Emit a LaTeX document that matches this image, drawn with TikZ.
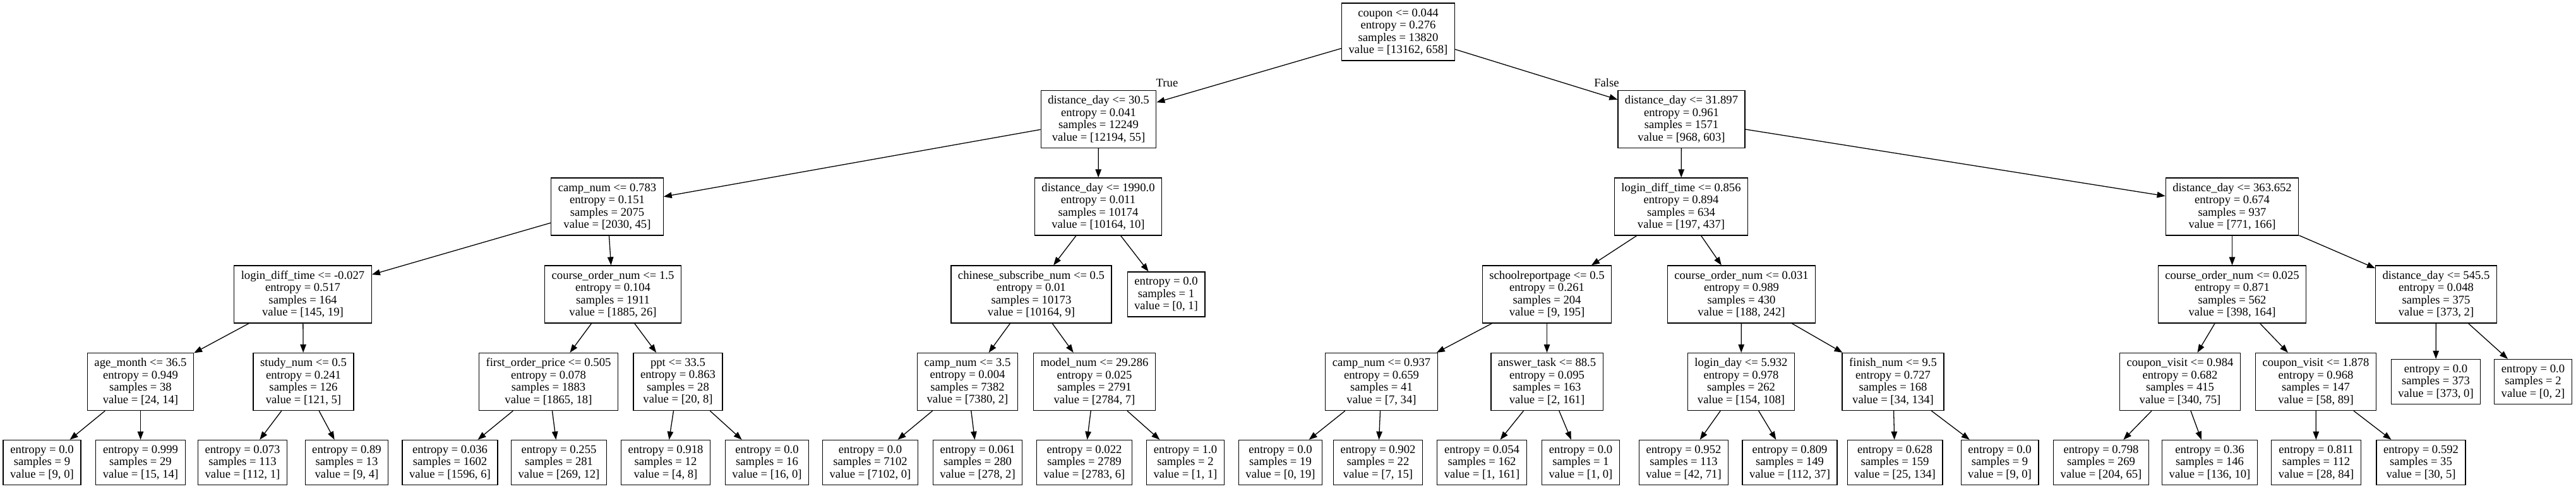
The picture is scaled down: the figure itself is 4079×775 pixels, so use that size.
\documentclass[tikz,border=0pt]{standalone}
\usepackage{fontspec}
\setmainfont{Liberation Serif}
\usetikzlibrary{arrows.meta}
\begin{document}
\begin{tikzpicture}[x=1pt,y=-1pt,
  every node/.style={font=\fontsize{18.67}{19.5}\selectfont},
  dbox/.style={draw=black,line width=1.3pt,rectangle,align=center,inner xsep=11pt,inner ysep=0pt,minimum height=91pt,fill=white},
  dleaf/.style={dbox,minimum height=71pt},
  lab/.style={inner sep=0pt},
  edge/.style={draw=black,line width=1.3pt,-{Triangle[length=13pt,width=9.5pt]}}
]
\fill[white] (0,0) rectangle (4079,775);
\useasboundingbox (0,0) rectangle (4079,775);

% level 0
\node[dbox] (r) at (2214,50.5) {coupon <= 0.044\\entropy = 0.276\\samples = 13820\\value = [13162, 658]};
% level 1
\node[dbox] (n1) at (1739.5,189) {distance\_day <= 30.5\\entropy = 0.041\\samples = 12249\\value = [12194, 55]};
\node[dbox] (n2) at (2662.5,189) {distance\_day <= 31.897\\entropy = 0.961\\samples = 1571\\value = [968, 603]};
% level 2
\node[dbox] (n3) at (961.5,327.5) {camp\_num <= 0.783\\entropy = 0.151\\samples = 2075\\value = [2030, 45]};
\node[dbox] (n4) at (1739,327.5) {distance\_day <= 1990.0\\entropy = 0.011\\samples = 10174\\value = [10164, 10]};
\node[dbox] (n5) at (2662,327.5) {login\_diff\_time <= 0.856\\entropy = 0.894\\samples = 634\\value = [197, 437]};
\node[dbox] (n6) at (3534.5,327.5) {distance\_day <= 363.652\\entropy = 0.674\\samples = 937\\value = [771, 166]};
% level 3
\node[dbox] (n7) at (479.5,466.5) {login\_diff\_time <= -0.027\\entropy = 0.517\\samples = 164\\value = [145, 19]};
\node[dbox] (n8) at (970.5,466.5) {course\_order\_num <= 1.5\\entropy = 0.104\\samples = 1911\\value = [1885, 26]};
\node[dbox] (n9) at (1633,466.5) {chinese\_subscribe\_num <= 0.5\\entropy = 0.01\\samples = 10173\\value = [10164, 9]};
\node[dleaf] (n10) at (1846.5,466.5) {entropy = 0.0\\samples = 1\\value = [0, 1]};
\node[dbox] (n11) at (2449.5,466.5) {schoolreportpage <= 0.5\\entropy = 0.261\\samples = 204\\value = [9, 195]};
\node[dbox] (n12) at (2757.5,466.5) {course\_order\_num <= 0.031\\entropy = 0.989\\samples = 430\\value = [188, 242]};
\node[dbox] (n13) at (3534.5,466.5) {course\_order\_num <= 0.025\\entropy = 0.871\\samples = 562\\value = [398, 164]};
\node[dbox] (n14) at (3857.5,466.5) {distance\_day <= 545.5\\entropy = 0.048\\samples = 375\\value = [373, 2]};
% level 4
\node[dbox] (m1) at (222.5,605) {age\_month <= 36.5\\entropy = 0.949\\samples = 38\\value = [24, 14]};
\node[dbox] (m2) at (480.5,605) {study\_num <= 0.5\\entropy = 0.241\\samples = 126\\value = [121, 5]};
\node[dbox] (m3) at (868.5,605) {first\_order\_price <= 0.505\\entropy = 0.078\\samples = 1883\\value = [1865, 18]};
\node[dbox] (m4) at (1073.5,605) {ppt <= 33.5\\entropy = 0.863\\samples = 28\\value = [20, 8]};
\node[dbox] (m5) at (1532,605) {camp\_num <= 3.5\\entropy = 0.004\\samples = 7382\\value = [7380, 2]};
\node[dbox] (m6) at (1733,605) {model\_num <= 29.286\\entropy = 0.025\\samples = 2791\\value = [2784, 7]};
\node[dbox] (m7) at (2187.5,605) {camp\_num <= 0.937\\entropy = 0.659\\samples = 41\\value = [7, 34]};
\node[dbox] (m8) at (2449.5,605) {answer\_task <= 88.5\\entropy = 0.095\\samples = 163\\value = [2, 161]};
\node[dbox] (m9) at (2757,605) {login\_day <= 5.932\\entropy = 0.978\\samples = 262\\value = [154, 108]};
\node[dbox] (m10) at (2997.5,605) {finish\_num <= 9.5\\entropy = 0.727\\samples = 168\\value = [34, 134]};
\node[dbox] (m11) at (3452,605) {coupon\_visit <= 0.984\\entropy = 0.682\\samples = 415\\value = [340, 75]};
\node[dbox] (m12) at (3667,605) {coupon\_visit <= 1.878\\entropy = 0.968\\samples = 147\\value = [58, 89]};
\node[dleaf] (m13) at (3857,605) {entropy = 0.0\\samples = 373\\value = [373, 0]};
\node[dleaf] (m14) at (4011,605) {entropy = 0.0\\samples = 2\\value = [0, 2]};
% level 5
\node[dleaf] (l1) at (66.5,733) {entropy = 0.0\\samples = 9\\value = [9, 0]};
\node[dleaf] (l2) at (222.5,733) {entropy = 0.999\\samples = 29\\value = [15, 14]};
\node[dleaf] (l3) at (384,733) {entropy = 0.073\\samples = 113\\value = [112, 1]};
\node[dleaf] (l4) at (549,733) {entropy = 0.89\\samples = 13\\value = [9, 4]};
\node[dleaf] (l5) at (712.5,733) {entropy = 0.036\\samples = 1602\\value = [1596, 6]};
\node[dleaf] (l6) at (885,733) {entropy = 0.255\\samples = 281\\value = [269, 12]};
\node[dleaf] (l7) at (1054,733) {entropy = 0.918\\samples = 12\\value = [4, 8]};
\node[dleaf] (l8) at (1214.5,733) {entropy = 0.0\\samples = 16\\value = [16, 0]};
\node[dleaf] (l9) at (1378,733) {entropy = 0.0\\samples = 7102\\value = [7102, 0]};
\node[dleaf] (l10) at (1548,733) {entropy = 0.061\\samples = 280\\value = [278, 2]};
\node[dleaf] (l11) at (1717,733) {entropy = 0.022\\samples = 2789\\value = [2783, 6]};
\node[dleaf] (l12) at (1877,733) {entropy = 1.0\\samples = 2\\value = [1, 1]};
\node[dleaf] (l13) at (2027.5,733) {entropy = 0.0\\samples = 19\\value = [0, 19]};
\node[dleaf] (l14) at (2182,733) {entropy = 0.902\\samples = 22\\value = [7, 15]};
\node[dleaf] (l15) at (2346.5,733) {entropy = 0.054\\samples = 162\\value = [1, 161]};
\node[dleaf] (l16) at (2503,733) {entropy = 0.0\\samples = 1\\value = [1, 0]};
\node[dleaf] (l17) at (2666,733) {entropy = 0.952\\samples = 113\\value = [42, 71]};
\node[dleaf] (l18) at (2834,733) {entropy = 0.809\\samples = 149\\value = [112, 37]};
\node[dleaf] (l19) at (3000.5,733) {entropy = 0.628\\samples = 159\\value = [25, 134]};
\node[dleaf] (l20) at (3166.5,733) {entropy = 0.0\\samples = 9\\value = [9, 0]};
\node[dleaf] (l21) at (3327,733) {entropy = 0.798\\samples = 269\\value = [204, 65]};
\node[dleaf] (l22) at (3499,733) {entropy = 0.36\\samples = 146\\value = [136, 10]};
\node[dleaf] (l23) at (3667.5,733) {entropy = 0.811\\samples = 112\\value = [28, 84]};
\node[dleaf] (l24) at (3833.5,733) {entropy = 0.592\\samples = 35\\value = [30, 5]};

% labels
\node[lab] (tl) at (1848,131) {True};
\node[lab] (fl) at (2544,131) {False};

% edges
\foreach \p/\c in {r/n1,r/n2,n1/n3,n1/n4,n2/n5,n2/n6,
  n3/n7,n3/n8,n4/n9,n4/n10,n5/n11,n5/n12,n6/n13,n6/n14,
  n7/m1,n7/m2,n8/m3,n8/m4,n9/m5,n9/m6,n11/m7,n11/m8,n12/m9,n12/m10,n13/m11,n13/m12,n14/m13,n14/m14,
  m1/l1,m1/l2,m2/l3,m2/l4,m3/l5,m3/l6,m4/l7,m4/l8,m5/l9,m5/l10,m6/l11,m6/l12,
  m7/l13,m7/l14,m8/l15,m8/l16,m9/l17,m9/l18,m10/l19,m10/l20,m11/l21,m11/l22,m12/l23,m12/l24}
  {\draw[edge] (\p) -- (\c);}
\end{tikzpicture}
\end{document}
